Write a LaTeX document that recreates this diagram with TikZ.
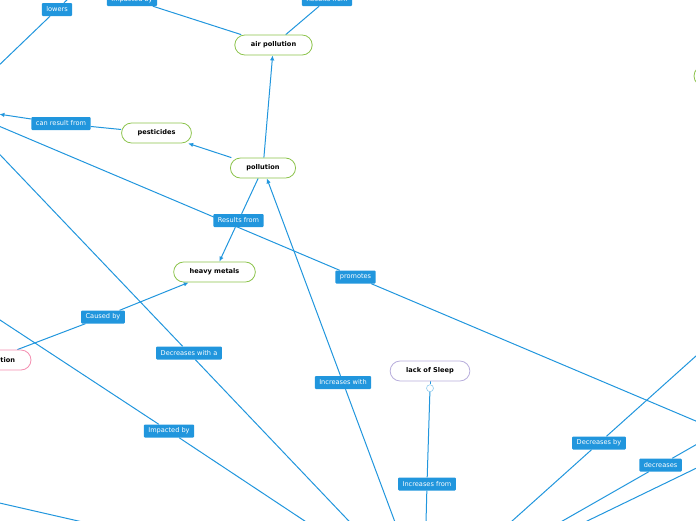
\documentclass[tikz,border=0pt]{standalone}
\usepackage{fontspec}
\setmainfont{DejaVu Sans}
\usetikzlibrary{arrows.meta,positioning,backgrounds}
\definecolor{linkblue}{HTML}{2196DD}
\definecolor{leafgreen}{HTML}{8BC34A}
\definecolor{rosepink}{HTML}{F48FB1}
\definecolor{lavender}{HTML}{B8AEDC}
\tikzset{
concept/.style={draw=leafgreen,line width=.8pt,fill=white,rounded corners=10pt,minimum height=20pt,inner xsep=16pt,inner ysep=0pt,font=\fontsize{6.6}{8}\selectfont\bfseries},
linklabel/.style={fill=linkblue,text=white,rounded corners=1pt,minimum height=13pt,inner xsep=4.5pt,inner ysep=0pt,font=\fontsize{6.6}{8}\selectfont},
knob/.style={circle,draw=linkblue!50,fill=white,line width=.6pt,minimum size=7pt,inner sep=0pt},
link/.style={draw=linkblue,line width=1pt},
flow/.style={link,-{Latex[length=5pt,width=4.5pt]}}
}
\begin{document}
\begin{tikzpicture}[x=1pt,y=-1pt]
\useasboundingbox (0,0) rectangle (696,520);
\clip (0,0) rectangle (696,520);
% concepts
\node[concept](air) at (273.5,45){air pollution};
\node[concept](pest) at (156.5,133){pesticides};
\node[concept](pol) at (263,168){pollution};
\node[concept](heavy) at (214.5,272){heavy metals};
\node[concept,draw=lavender](sleep) at (430,371){lack of Sleep};
\node[knob,below=3pt of sleep](knob){};
\node[concept,draw=rosepink,text width=50pt,align=right](tion) at (-10,360){tion};
\node[concept,minimum width=88pt](leftnode) at (-45,107.5){};
\node[concept,minimum width=80pt](rightnode) at (734,76){};
% link labels
\node[linklabel](lowers) at (57,9.5){lowers};
\node[linklabel](imptop) at (132,-0.5){Impacted by};
\node[linklabel](restop) at (327,-0.5){Results from};
\node[linklabel](canres) at (61,123.5){can result from};
\node[linklabel](resfrom) at (238.5,220.5){Results from};
\node[linklabel](promotes) at (355.5,277){promotes};
\node[linklabel](causedby) at (103,317){Caused by};
\node[linklabel](decwith) at (189,353){Decreases with a};
\node[linklabel](incwith) at (343,382.5){Increases with};
\node[linklabel](impby) at (169,431){Impacted by};
\node[linklabel](incfrom) at (427,484){Increases from};
\node[linklabel](decby) at (599,443){Decreases by};
\node[linklabel](decr) at (660.5,465){decreases};
% ends outside the frame
\coordinate(hub) at (424,600);
\coordinate(toplowers) at (98,-30);\coordinate(topimp) at (40,-30);\coordinate(topres) at (362,-30);
\coordinate(leftimp) at (-60,280.6);\coordinate(leftlow) at (-60,489.4);
\coordinate(rightprom) at (740,439.7);\coordinate(rightdecby) at (740,316.5);
\coordinate(rightdecr) at (740,419.6);\coordinate(rightlow) at (740,447);
\begin{scope}[on background layer]
\clip (0,0) rectangle (696,520);
\draw[flow](pol)--(air);\draw[flow](pol)--(pest);\draw[flow](pol)--(resfrom)--(heavy);
\draw[flow](pest)--(canres)--(leftnode);\draw[flow](tion)--(causedby)--(heavy);
\draw[flow](hub)--(incwith)--(pol);
\draw[link](leftnode)--(lowers)--(toplowers);\draw[link](air)--(imptop)--(topimp);\draw[link](air)--(restop)--(topres);
\draw[link](leftnode)--(promotes)--(rightprom);\draw[link](leftnode)--(decwith)--(hub);
\draw[link](leftimp)--(impby)--(hub);\draw[link](leftlow)--(hub);
\draw[link](sleep)--(knob);\draw[link](knob)--(incfrom)--(hub);
\draw[link](hub)--(decby)--(rightdecby);\draw[link](hub)--(decr)--(rightdecr);\draw[link](hub)--(rightlow);
\end{scope}
\end{tikzpicture}
\end{document}
